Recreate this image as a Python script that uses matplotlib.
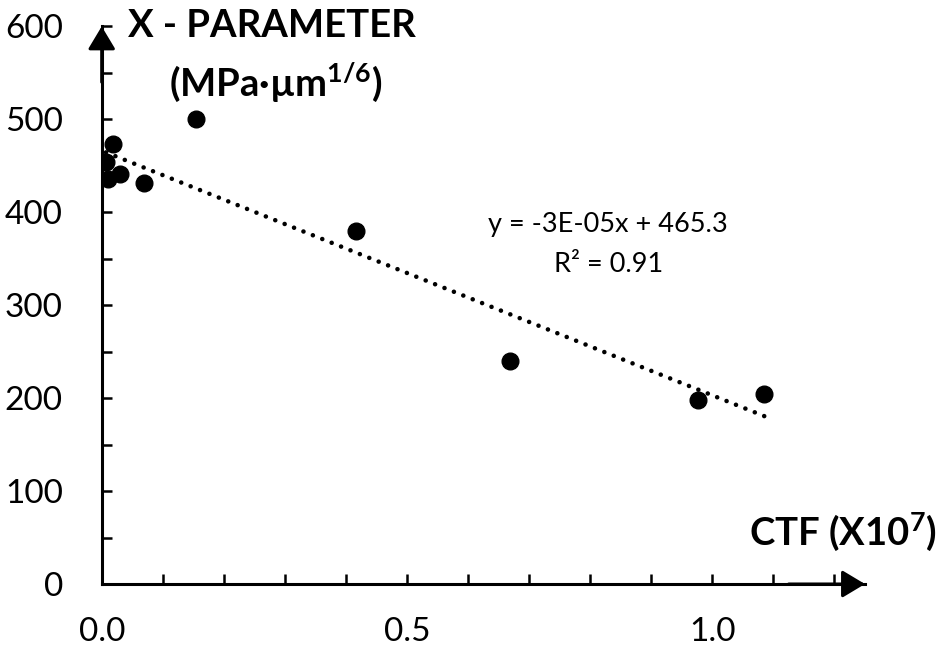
import numpy as np
import matplotlib.pyplot as plt
from matplotlib.ticker import MultipleLocator

plt.rcParams['font.family'] = ['Lato', 'DejaVu Sans']
plt.rcParams['mathtext.fontset'] = 'custom'
plt.rcParams['mathtext.rm'] = 'Lato'
plt.rcParams['mathtext.bf'] = 'Lato:bold'
plt.rcParams['mathtext.it'] = 'Lato:italic'

# CTF (x1e7) vs X-parameter (MPa.um^1/6)
ctf = [0.007, 0.011, 0.019, 0.030, 0.070, 0.154, 0.417, 0.669, 0.976, 1.085]
xparam = [454, 436, 474, 441, 431, 500, 380, 240, 198, 204]
eq_text = 'y = -3E-05x + 465.3'
r2_text = 'R² = 0.91'

fig = plt.figure(figsize=(9.4, 6.54), dpi=100)
ax = fig.add_axes([0.1082, 0.1070, 0.8120, 0.8526])

ax.plot(ctf, xparam, 'o', color='black', markersize=12, zorder=3)

# linear trend line through the data
k, b = np.polyfit(ctf, xparam, 1)
xs = np.array([min(ctf), max(ctf)])
ax.plot(xs, k * xs + b, color='black', linewidth=3.3, linestyle=(0, (0.01, 2.2)),
        dash_capstyle='round', zorder=2)

ax.set_xlim(0, 1.25)
ax.set_ylim(0, 600)
ax.xaxis.set_major_locator(MultipleLocator(0.5))
ax.xaxis.set_minor_locator(MultipleLocator(0.1))
ax.yaxis.set_major_locator(MultipleLocator(100))
ax.yaxis.set_minor_locator(MultipleLocator(50))
ax.set_xticks([0.0, 0.5, 1.0])
ax.set_xticklabels(['0.0', '0.5', '1.0'])
ax.tick_params(axis='both', which='both', direction='in', length=7, width=1.8, labelsize=24)
ax.tick_params(axis='y', pad=28)
ax.tick_params(axis='x', pad=24)

for s in ['top', 'right']:
    ax.spines[s].set_visible(False)
for s in ['left', 'bottom']:
    ax.spines[s].set_linewidth(2.2)

arrow = dict(arrowstyle='-|>,head_length=0.7,head_width=0.42', lw=2.2, color='black',
             mutation_scale=20, shrinkA=0, shrinkB=0)
ax.annotate('', xy=(0, 1), xytext=(0, 0.9), xycoords='axes fraction', arrowprops=arrow)
ax.annotate('', xy=(1, 0), xytext=(0.9, 0), xycoords='axes fraction', arrowprops=arrow)

fig.text(0.289, 1 - 37 / 654, 'X - PARAMETER', fontsize=27.5, fontweight='bold',
         ha='center', va='baseline')
fig.text(0.293, 1 - 96 / 654, r'(MPa·µm$^{\mathbf{1/6}}$)', fontsize=27.5, fontweight='bold',
         ha='center', va='baseline')
fig.text(0.997, 1 - 545 / 654, r'CTF (X10$^{\mathbf{7}}$)', fontsize=27.5, fontweight='bold',
         ha='right', va='baseline')

ax.text(0.647, 1 - 232 / 654, eq_text, transform=fig.transFigure, fontsize=19.5,
        ha='center', va='baseline')
ax.text(0.647, 1 - 272 / 654, r2_text, transform=fig.transFigure, fontsize=19.5,
        ha='center', va='baseline')

fig.savefig('out.png', dpi=100)
